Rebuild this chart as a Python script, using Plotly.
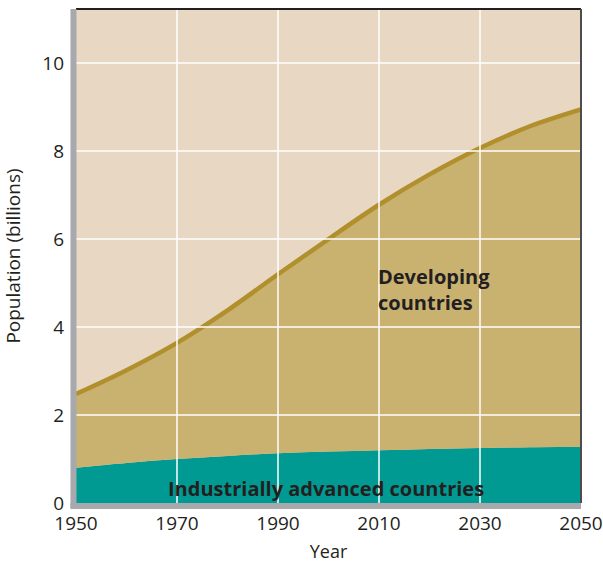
import plotly.graph_objects as go

years = [1950, 1960, 1970, 1980, 1990, 2000, 2010, 2020, 2030, 2040, 2050]
world_total = [2.48, 3.02, 3.64, 4.38, 5.2, 6.0, 6.78, 7.47, 8.07, 8.57, 8.95]
industrial = [0.80, 0.91, 1.0, 1.07, 1.13, 1.17, 1.2, 1.23, 1.25, 1.27, 1.28]

x_ticks = [1950, 1970, 1990, 2010, 2030, 2050]
y_ticks = [0, 2, 4, 6, 8, 10]

FONT = "Open Sans"
fig = go.Figure()
fig.add_trace(go.Scatter(x=years, y=industrial, mode="lines", line=dict(color="#009A92", width=0, shape="spline"),
                         fill="tozeroy", fillcolor="#009A92", hoverinfo="skip", showlegend=False))
fig.add_trace(go.Scatter(x=years, y=world_total, mode="lines", line=dict(color="#B08F2C", width=4.5, shape="spline"),
                         fill="tonexty", fillcolor="#C9B170", hoverinfo="skip", showlegend=False))

shapes = []
for xv in x_ticks[1:-1]:
    shapes.append(dict(type="line", xref="x", yref="y", x0=xv, x1=xv, y0=0, y1=11.23,
                       line=dict(color="white", width=1.5), layer="above"))
for yv in y_ticks[1:]:
    shapes.append(dict(type="line", xref="x", yref="y", x0=1950, x1=2050, y0=yv, y1=yv,
                       line=dict(color="white", width=1.5), layer="above"))
shapes.append(dict(type="line", xref="paper", yref="paper", x0=0, x1=1, y0=1, y1=1,
                   line=dict(color="#231F20", width=2), layer="above"))
shapes.append(dict(type="line", xref="paper", yref="paper", x0=1, x1=1, y0=0, y1=1,
                   line=dict(color="#4D4D4D", width=2), layer="above"))
shapes.append(dict(type="line", xref="paper", yref="paper", x0=-0.005, x1=-0.005, y0=-0.01, y1=1,
                   line=dict(color="#A7A9AC", width=6), layer="above"))
shapes.append(dict(type="line", xref="paper", yref="paper", x0=-0.011, x1=1, y0=-0.006, y1=-0.006,
                   line=dict(color="#A7A9AC", width=6), layer="above"))

fig.update_layout(
    width=603, height=563,
    margin=dict(l=76, r=22, t=9, b=60),
    paper_bgcolor="white", plot_bgcolor="#E8D8C3",
    font=dict(family=FONT, color="#231F20", size=19),
    shapes=shapes,
    xaxis=dict(range=[1950, 2050], tickvals=x_ticks, showgrid=False, zeroline=False, showline=False,
               ticks="", tickfont=dict(size=19), ticklabelstandoff=7, automargin=False,
               title=dict(text="Year", font=dict(size=18), standoff=12)),
    yaxis=dict(range=[0, 11.23], tickvals=y_ticks, showgrid=False, zeroline=False, showline=False,
               ticks="", tickfont=dict(size=19), ticklabelstandoff=11, automargin=False,
               title=dict(text="Population (billions)", font=dict(size=19), standoff=16)),
    annotations=[
        dict(x=2009.5, y=4.85, xref="x", yref="y", text="<b>Developing<br>countries</b>", showarrow=False,
             xanchor="left", yanchor="middle", align="left", font=dict(size=20, color="#231F20")),
        dict(x=1999.5, y=0.34, xref="x", yref="y", text="<b>Industrially advanced countries</b>", showarrow=False,
             xanchor="center", yanchor="middle", font=dict(size=20, color="#231F20")),
    ],
)
fig.write_html("out.html", config={"displayModeBar": False},
               post_script="document.body.style.margin='0';")
